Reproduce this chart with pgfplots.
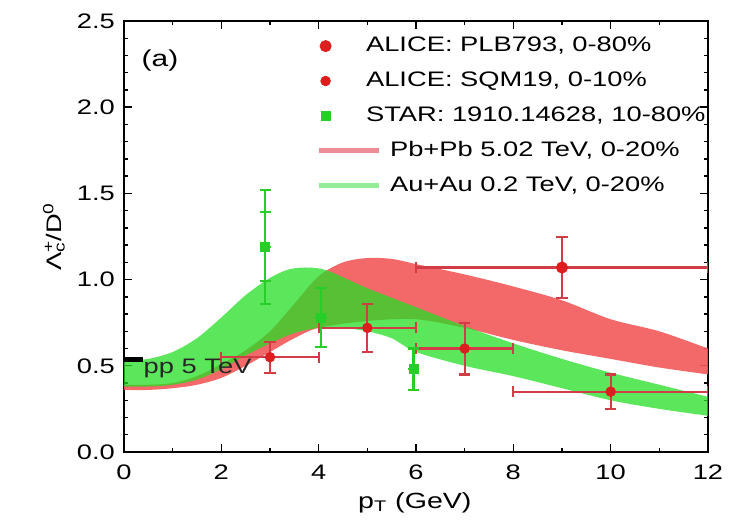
\documentclass[border=0pt]{standalone}
\usepackage{fontspec}
\setmainfont{Liberation Sans}[FakeStretch=1.3]
\usepackage{pgfplots}
\pgfplotsset{compat=1.18}
\usepgfplotslibrary{fillbetween}
\definecolor{bandred}{RGB}{242,88,88}
\definecolor{bandgreen}{RGB}{36,222,36}
\definecolor{alicered}{RGB}{220,30,30}
\definecolor{errred}{RGB}{210,60,70}
\definecolor{stargreen}{RGB}{40,205,40}
\definecolor{legred}{RGB}{235,140,150}
\definecolor{leggreen}{RGB}{150,235,150}
\newcommand\fs{\fontsize{10.5}{12.6}\selectfont}
\pgfplotsset{
  dotlegend/.style={legend image code/.code={\draw[##1] plot coordinates {(3.5pt,0pt)};}},
  redlegend/.style={legend image code/.code={\draw[legred, line width=2.5pt] (0pt,0pt) -- (30pt,0pt);}},
  greenlegend/.style={legend image code/.code={\draw[leggreen, line width=2.5pt] (0pt,0pt) -- (30pt,0pt);}},
  errs/.style={error bars/error bar style={#1, line width=1.1pt},
    error bars/error mark options={rotate=90, #1, mark size=2.8pt, line width=1.1pt}},
}

\begin{document}
\begin{tikzpicture}
\begin{axis}[
  width=292pt, height=215.5pt, scale only axis,
  xmin=0, xmax=12, ymin=0, ymax=2.5,
  xtick={0,2,...,12}, ytick={0,0.5,1,1.5,2,2.5},
  minor x tick num=1, minor y tick num=4,
  major tick length=4pt, minor tick length=2pt,
  axis line style={line width=1.1pt},
  every tick/.style={black, line width=0.7pt},
  /pgf/number format/assume math mode=true,
  yticklabel style={/pgf/number format/fixed, /pgf/number format/fixed zerofill,
    /pgf/number format/precision=1, xshift=-1pt},
  xticklabel style={yshift=-3pt},
  ticklabel style={font=\fs},
  xlabel={p\textsubscript{T} (GeV)},
  xlabel style={at={(axis description cs:0.498,-0.118)}, anchor=center,
    font=\fontsize{11}{13}\selectfont},
  ylabel={Λ\rlap{\textsuperscript{+}}\textsubscript{c}/D\textsuperscript{0}},
  ylabel style={at={(axis description cs:-0.12,0.5)}, anchor=center, font=\fs},
  legend style={at={(axis description cs:0.318,0.974)}, anchor=north west,
    draw=none, fill=none, font=\fs, row sep=7.95pt, column sep=0pt,
    nodes={inner ysep=0pt, inner xsep=4.5pt, text height=7.5pt, text depth=2pt}},
  legend cell align=left,
  error bars/y dir=both, error bars/y explicit,
  error bars/x dir=both, error bars/x explicit,
]
% ALICE PLB793, 0-80%
\addplot[only marks, mark=*, mark size=2.8pt, alicered, dotlegend, errs=errred]
  coordinates {(9,1.07) +- (3,0.175)};
\addlegendentry{\hspace*{-12pt}ALICE: PLB793, 0-80\%}
% ALICE SQM19, 0-10%
\addplot[only marks, mark=*, mark size=2.4pt, alicered, dotlegend, errs=errred]
  coordinates {(3,0.55) +- (1,0.09) (5,0.72) +- (1,0.14)
    (7,0.60) +- (1,0.15) (10,0.35) +- (2,0.10)};
\addlegendentry{\hspace*{-12pt}ALICE: SQM19, 0-10\%}
% STAR 1910.14628, 10-80%
\addplot[only marks, mark=square*, mark size=2.3pt, stargreen, dotlegend, errs=stargreen]
  coordinates {(2.9,1.19) +- (0,0.33) (4.05,0.78) +- (0,0.17)
    (5.95,0.48) +- (0,0.12)};
\addlegendentry{\hspace*{-12pt}STAR: 1910.14628, 10-80\%}
\addplot[forget plot, draw=none, mark=none, errs=stargreen]
  coordinates {(2.9,1.19) +- (0,0.20)};
% pp 5 TeV
\addplot[forget plot, black, line width=2.5pt] coordinates {(0,0.535) (0.4,0.535)};
% Pb+Pb 5.02 TeV band
\addplot[forget plot, name path=ru, draw=none, smooth] coordinates {
  (0,0.39) (0.5,0.39) (1,0.40) (1.5,0.44) (2,0.51) (2.5,0.59) (3,0.70)
  (3.5,0.86) (4,1.02) (4.5,1.10) (5,1.125) (5.5,1.12) (6,1.09) (7,1.03)
  (8,0.96) (9,0.88) (10,0.77) (11,0.70) (12,0.60)};
\addplot[forget plot, name path=rl, draw=none, smooth] coordinates {
  (0,0.36) (0.5,0.36) (1,0.37) (1.5,0.39) (2,0.43) (2.5,0.50) (3,0.58)
  (3.5,0.66) (4,0.72) (5,0.76) (6,0.77) (7,0.72) (8,0.65) (9,0.59)
  (10,0.54) (11,0.49) (12,0.45)};
\addplot[forget plot, bandred, fill opacity=0.9] fill between[of=ru and rl];
% Au+Au 0.2 TeV band
\addplot[forget plot, name path=gu, draw=none, smooth] coordinates {
  (0,0.53) (0.5,0.54) (1,0.58) (1.5,0.66) (2,0.78) (2.5,0.91) (3,1.01)
  (3.4,1.06) (3.8,1.07) (4.2,1.05) (5,0.95) (6,0.84) (7,0.73) (8,0.63)
  (9,0.54) (10,0.46) (11,0.39) (12,0.32)};
\addplot[forget plot, name path=gl, draw=none, smooth] coordinates {
  (0,0.38) (0.5,0.38) (1,0.39) (1.5,0.42) (2,0.48) (2.5,0.56) (3,0.63)
  (3.5,0.69) (4,0.72) (4.5,0.72) (5,0.70) (5.5,0.66) (6,0.58) (7,0.50)
  (8,0.44) (9,0.37) (10,0.30) (11,0.25) (12,0.21)};
\addplot[forget plot, bandgreen, fill opacity=0.75] fill between[of=gu and gl];
\addlegendimage{redlegend}
\addlegendentry{Pb+Pb 5.02 TeV, 0-20\%}
\addlegendimage{greenlegend}
\addlegendentry{Au+Au 0.2 TeV, 0-20\%}
\node[anchor=west, font=\fs, text=black!85] at (axis cs:0.26,0.487) {pp 5 TeV};
\node[font=\fontsize{11.5}{14}\selectfont] at (axis cs:0.74,2.27) {(a)};
\end{axis}
\pgfresetboundingbox
\path[use as bounding box] (current axis.south west) ++(-62pt,-39pt) rectangle
  ([xshift=13.5pt,yshift=10.5pt]current axis.north east);
\end{tikzpicture}
\end{document}
